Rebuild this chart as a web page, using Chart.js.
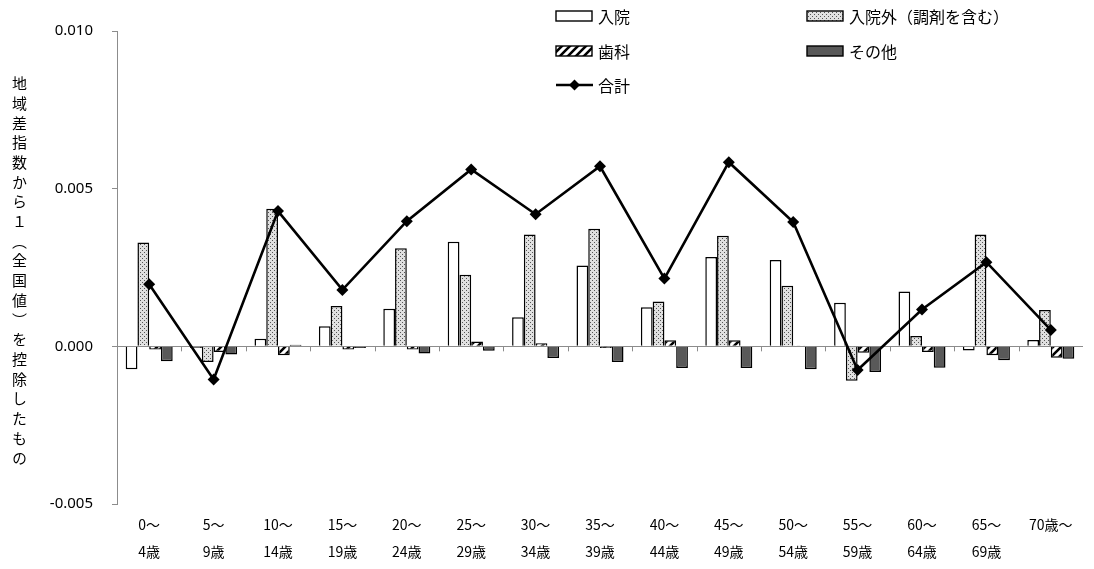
<!DOCTYPE html>
<html lang="ja">
<head>
<meta charset="utf-8">
<script src="https://cdn.jsdelivr.net/npm/chart.js@4/dist/chart.umd.min.js"></script>
<style>
  html, body { margin:0; padding:0; background:#fff; }
  #wrap { position:relative; width:1094px; height:569px; }
  #yTitle {
    position:absolute; left:10px; top:76px;
    writing-mode:vertical-rl;
    font-family:"Noto Sans CJK JP", sans-serif;
    font-size:15px; letter-spacing:4.7px; line-height:18px; color:#000;
  }
</style>
</head>
<body>
<div id="wrap">
  <canvas id="chart" width="1094" height="569"></canvas>
  <div id="yTitle">地域差指数から１（全国値）を控除したもの</div>
</div>
<script>
const ageGroups = [
  ["0～","4歳"],["5～","9歳"],["10～","14歳"],["15～","19歳"],["20～","24歳"],
  ["25～","29歳"],["30～","34歳"],["35～","39歳"],["40～","44歳"],["45～","49歳"],
  ["50～","54歳"],["55～","59歳"],["60～","64歳"],["65～","69歳"],["70歳～",""]
];

// values
const nyuin      = [-0.00073, -0.00005, 0.00024, 0.00064, 0.00119, 0.00332, 0.00092, 0.00256, 0.00124, 0.00283, 0.00274, 0.00138, 0.00174, -0.00013, 0.00020];
const nyuinGai   = [0.00329, -0.00050, 0.00436, 0.00128, 0.00311, 0.00227, 0.00355, 0.00373, 0.00142, 0.00351, 0.00192, -0.00109, 0.00033, 0.00355, 0.00115];
const shika      = [-0.00010, -0.00018, -0.00028, -0.00010, -0.00010, 0.00015, 0.00010, -0.00005, 0.00019, 0.00019, 0.00003, -0.00020, -0.00018, -0.00028, -0.00036];
const sonota     = [-0.00047, -0.00026, 0.00005, -0.00005, -0.00023, -0.00014, -0.00037, -0.00050, -0.00069, -0.00069, -0.00073, -0.00081, -0.00068, -0.00044, -0.00039];
const goukei     = [0.00197, -0.00105, 0.00429, 0.00179, 0.00397, 0.00561, 0.00419, 0.00571, 0.00215, 0.00584, 0.00394, -0.00075, 0.00117, 0.00267, 0.00052];

const yTicks = [-0.005, 0.000, 0.005, 0.010];

function $(id){ return document.getElementById(id); }

function dotPattern(){
  const c = document.createElement("canvas");
  c.width = 4; c.height = 4;
  const g = c.getContext("2d");
  g.fillStyle = "#e0e0e0"; g.fillRect(0,0,4,4);
  g.fillStyle = "#555";
  g.fillRect(0,0,1,1); g.fillRect(2,2,1,1);
  return g.createPattern(c, "repeat");
}

function hatchPattern(){
  const c = document.createElement("canvas");
  c.width = 8; c.height = 8;
  const g = c.getContext("2d");
  g.fillStyle = "#fff"; g.fillRect(0,0,8,8);
  g.strokeStyle = "#000"; g.lineWidth = 2.6;
  g.beginPath();
  g.moveTo(-2,10); g.lineTo(10,-2);
  g.moveTo(-6,6); g.lineTo(6,-6);
  g.moveTo(2,14); g.lineTo(14,2);
  g.stroke();
  return g.createPattern(c, "repeat");
}

const FONT = "'Noto Sans CJK JP', 'Noto Sans', sans-serif";
const ctx = $("chart").getContext("2d");
const dots = dotPattern();
const hatch = hatchPattern();

// zero line tick marks at category boundaries (Excel style)
const zeroTicks = {
  id: "zeroTicks",
  afterDatasetsDraw(chart){
    const x = chart.scales.x, y = chart.scales.y, c = chart.ctx;
    const y0 = y.getPixelForValue(0);
    c.save();
    c.strokeStyle = "#8c8c8c"; c.lineWidth = 1;
    c.beginPath();
    for (let i = 1; i < ageGroups.length; i++){
      const px = Math.round((x.getPixelForValue(i-1) + x.getPixelForValue(i)) / 2) + 0.5;
      c.moveTo(px, y0); c.lineTo(px, y0 + 5);
    }
    c.stroke();
    c.restore();
  }
};

const legendBox = {
  id: "legendBox",
  afterDraw(chart){
    const c = chart.ctx;
    const items = [
      { t:"入院", x:556, y:16, fill:"#fff" },
      { t:"入院外（調剤を含む）", x:807, y:16, fill:dots },
      { t:"歯科", x:556, y:51, fill:hatch },
      { t:"その他", x:807, y:51, fill:"#595959" },
      { t:"合計", x:556, y:85, line:true }
    ];
    c.save();
    c.font = "16px " + FONT;
    c.textBaseline = "middle";
    items.forEach(it => {
      if (it.line){
        c.strokeStyle = "#000"; c.lineWidth = 2.5;
        c.beginPath(); c.moveTo(it.x, it.y); c.lineTo(it.x+37, it.y); c.stroke();
        c.fillStyle = "#000";
        c.beginPath();
        const cx = it.x+18.5;
        c.moveTo(cx, it.y-5.5); c.lineTo(cx+5.5, it.y); c.lineTo(cx, it.y+5.5); c.lineTo(cx-5.5, it.y);
        c.closePath(); c.fill();
      } else {
        c.fillStyle = it.fill;
        c.fillRect(it.x, it.y-5, 36, 10);
        c.strokeStyle = "#000"; c.lineWidth = 1.4;
        c.strokeRect(it.x, it.y-5, 36, 10);
      }
      c.fillStyle = "#000";
      c.fillText(it.t, it.x+42, it.y+1);
    });
    c.restore();
  }
};

const barBase = { borderColor:"#000", borderWidth:1.5, categoryPercentage:0.73, barPercentage:1.0, order:2 };

new Chart(ctx, {
  data: {
    labels: ageGroups,
    datasets: [
      { type:"line", label:"合計", data:goukei, borderColor:"#000", backgroundColor:"#000",
        borderWidth:2.6, pointStyle:"rectRot", pointRadius:6, pointBorderWidth:0, tension:0, order:0 },
      { type:"bar", label:"入院", data:nyuin, backgroundColor:"#fff", ...barBase },
      { type:"bar", label:"入院外（調剤を含む）", data:nyuinGai, backgroundColor:dots, ...barBase },
      { type:"bar", label:"歯科", data:shika, backgroundColor:hatch, ...barBase },
      { type:"bar", label:"その他", data:sonota, backgroundColor:"#595959", ...barBase }
    ]
  },
  options: {
    responsive:false,
    animation:false,
    layout:{ padding:{ top:31, right:11, left:0, bottom:0 } },
    plugins:{ legend:{ display:false }, tooltip:{ enabled:false } },
    scales:{
      x:{
        grid:{ display:false, drawTicks:false },
        border:{ display:false },
        ticks:{ color:"#000", font:{ family:FONT, size:14, lineHeight:1.93 }, padding:7, maxRotation:0, autoSkip:false },
        afterFit(s){ s.height = 65; }
      },
      y:{
        min:-0.005, max:0.010,
        afterBuildTicks(s){ s.ticks = yTicks.map(v => ({ value:v })); },
        grid:{
          color: c => (c.tick && c.tick.value === 0) ? "#8c8c8c" : "rgba(0,0,0,0)",
          tickColor:"#8c8c8c", tickLength:5, lineWidth:1
        },
        border:{ display:true, color:"#8c8c8c" },
        ticks:{ color:"#000", font:{ family:"'Noto Sans', sans-serif", size:15 }, padding:19,
          callback: v => v.toFixed(3) },
        afterFit(s){ s.width = 117; }
      }
    }
  },
  plugins:[zeroTicks, legendBox]
});
</script>
</body>
</html>
